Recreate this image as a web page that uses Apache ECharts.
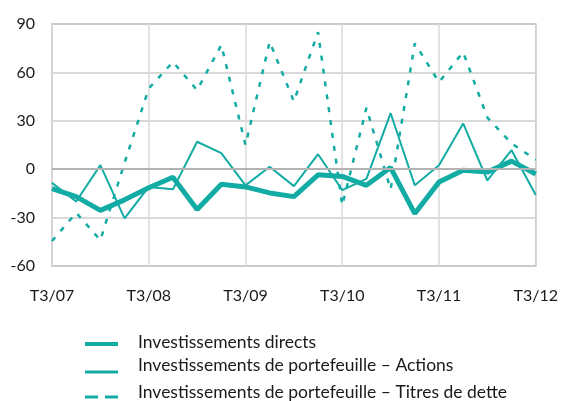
<!DOCTYPE html>
<html>
<head>
<meta charset="utf-8">
<script src="https://cdn.jsdelivr.net/npm/echarts@6/dist/echarts.min.js"></script>
<style>
html,body{margin:0;padding:0;background:#fff;}
#c{width:561px;height:401px;}
</style>
</head>
<body>
<div id="c"></div>
<script>
const categories = ['T3/07','T4/07','T1/08','T2/08','T3/08','T4/08','T1/09','T2/09','T3/09','T4/09','T1/10','T2/10','T3/10','T4/10','T1/11','T2/11','T3/11','T4/11','T1/12','T2/12','T3/12'];
const directs = [-12, -17, -25.5, -19, -11.5, -5, -25, -9.3, -11, -14.7, -17, -3.5, -4.5, -10, 1, -27.5, -8, -0.6, -1.8, 5, -3];
const actions = [-8.5, -20, 2.5, -30.5, -11, -12.5, 17, 10, -10, 1.5, -10.5, 9.3, -13, -6, 34.7, -10, 2.5, 28.4, -7, 11.8, -16];
const dette = [-44.5, -27, -44, 4, 50, 66.5, 49, 77, 15, 79, 42, 85, -22.4, 38, -12.5, 78, 54, 72.5, 32, 16, 6];
const names = ['Investissements directs','Investissements de portefeuille – Actions','Investissements de portefeuille – Titres de dette'];
const teal = '#13aca4';
const font = 'Lato, "Open Sans", sans-serif';

// legend icons: 33x24 box (corner points fix the box), bar drawn at the wanted height
const box = 'M0,0L0,0M33,24L33,24';
const icons = [
  'path://' + box + 'M0,12L33,12L33,16L0,16Z',
  'path://' + box + 'M0,17.5L33,17.5L33,20.5L0,20.5Z',
  'path://' + box + 'M0,15.5L13,15.5L13,18.5L0,18.5ZM20,15.5L33,15.5L33,18.5L20,18.5Z'
];

function legendFor(i, top) {
  return {
    data:[{name:names[i], icon:icons[i]}],
    orient:'vertical', left:85, top:top, padding:0,
    itemWidth:33, itemHeight:24, selectedMode:false,
    itemStyle:{color:teal,borderWidth:0,opacity:1},
    textStyle:{fontFamily:font,fontSize:17.5,lineHeight:18,color:'#1a1a1a',padding:[0,0,0,15]}
  };
}

const chart = echarts.init(document.getElementById('c'), null, {renderer:'canvas'});
chart.setOption({
  animation:false,
  backgroundColor:'#fff',
  grid:{left:52,right:24,top:24,bottom:135,show:true,borderColor:'#b3b3b3',borderWidth:1.5,backgroundColor:'transparent'},
  legend:[
    legendFor(0, 330),
    legendFor(1, 353),
    legendFor(2, 380)
  ],
  xAxis:{
    type:'category',data:categories,boundaryGap:false,
    axisLine:{show:false},axisTick:{show:false},
    axisLabel:{interval:3,margin:22,fontFamily:font,fontSize:16,color:'#1a1a1a'},
    splitLine:{show:true,interval:3,lineStyle:{color:'#dadada',width:1.5}}
  },
  yAxis:{
    type:'value',min:-60,max:90,interval:30,
    axisLine:{show:false},axisTick:{show:false},
    axisLabel:{margin:17,fontFamily:font,fontSize:16,color:'#1a1a1a'},
    splitLine:{lineStyle:{color:'#cccccc',width:1.5}}
  },
  series:[
    {name:names[0],type:'line',data:directs,symbol:'none',z:4,
     lineStyle:{color:teal,width:5},itemStyle:{color:teal},
     markLine:{silent:true,symbol:'none',label:{show:false},lineStyle:{color:'#b3b3b3',width:2,type:'solid'},data:[{yAxis:0}]}},
    {name:names[1],type:'line',data:actions,symbol:'none',z:3,
     lineStyle:{color:teal,width:2},itemStyle:{color:teal}},
    {name:names[2],type:'line',data:dette,symbol:'none',z:2,
     lineStyle:{color:teal,width:2.5,type:[5,8]},itemStyle:{color:teal}}
  ]
});
</script>
</body>
</html>
